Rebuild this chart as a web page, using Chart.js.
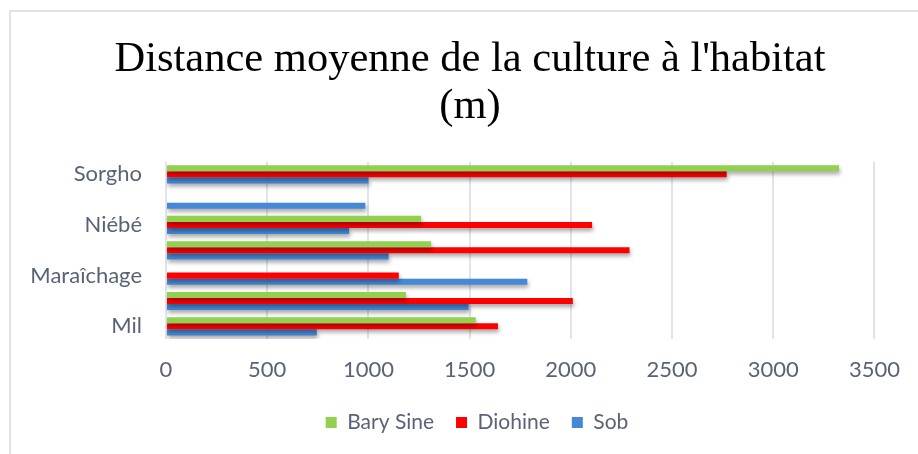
<!DOCTYPE html>
<html>
<head>
<meta charset="utf-8">
<script src="https://cdn.jsdelivr.net/npm/chart.js@4.4.1/dist/chart.umd.min.js"></script>
<style>
  body { margin: 0; background: #fff; }
  #wrap { position: relative; width: 918px; height: 454px; overflow: hidden; }
  #frame { position: absolute; left: 9px; top: 10px; width: 1000px; height: 500px;
           border-left: 2px solid #dfe4ea; border-top: 2px solid #dfe4ea; }
  canvas { position: absolute; left: 0; top: 0; }
</style>
</head>
<body>
<div id="wrap">
  <div id="frame"></div>
  <canvas id="chart" width="918" height="454"></canvas>
</div>
<script>
// categories, bottom to top (only every other one is labelled in the source)
const categories = ['Mil', '', 'Maraîchage', '', 'Niébé', '', 'Sorgho'];
const barySine = [1530, 1185, null, 1310, 1260, null, 3325];
const diohine  = [1640, 2010, 1150, 2290, 2105, null, 2770];
const sob      = [745, 1495, 1785, 1100, 905, 985, 1000];
const xTicks   = [0, 500, 1000, 1500, 2000, 2500, 3000, 3500];

const tickColor = '#5a6375';

// soft drop shadow under the bars, like the office chart
const barShadow = {
  id: 'barShadow',
  beforeDatasetsDraw(chart) {
    const c = chart.ctx;
    c.save();
    c.shadowColor = 'rgba(0,0,0,0.35)';
    c.shadowBlur = 4;
    c.shadowOffsetX = 1;
    c.shadowOffsetY = 3;
  },
  afterDatasetsDraw(chart) {
    chart.ctx.restore();
  }
};

// legend sits a little right of the title centre in the source
const legendNudge = {
  id: 'legendNudge',
  afterLayout(chart) {
    chart.legend.left += 7;
    chart.legend.right += 7;
  }
};

const ctx = document.getElementById('chart').getContext('2d');

const chart = new Chart(ctx, {
  type: 'bar',
  data: {
    labels: categories,
    datasets: [
      { label: 'Bary Sine', data: barySine, backgroundColor: '#92d050' },
      { label: 'Diohine', data: diohine, backgroundColor: '#ff0000' },
      { label: 'Sob', data: sob, backgroundColor: '#4588d6' }
    ]
  },
  options: {
    indexAxis: 'y',
    responsive: false,
    animation: false,
    categoryPercentage: 0.72,
    barPercentage: 1,
    layout: {
      padding: { left: 22, right: 0, top: 0, bottom: 11 }
    },
    scales: {
      x: {
        min: 0,
        max: 3500,
        afterBuildTicks: (scale) => {
          scale.ticks = xTicks.map(v => ({ value: v }));
        },
        afterFit: (scale) => { scale.height = 51; },
        grid: { color: '#e1e4ea', lineWidth: 2, drawTicks: false },
        border: { display: false },
        ticks: {
          padding: 18,
          color: tickColor,
          font: { family: 'Lato', size: 22 },
          callback: (v) => String(v)
        }
      },
      y: {
        reverse: true,
        grid: { display: false, drawTicks: false },
        border: { display: false },
        afterFit: (scale) => { scale.width = 144; },
        ticks: {
          autoSkip: false,
          padding: 24,
          color: tickColor,
          font: { family: 'Lato', size: 22 }
        }
      },
      // empty strip on the right so the plot stops short of the edge
      yRight: {
        type: 'linear',
        axis: 'y',
        position: 'right',
        grid: { display: false, drawTicks: false },
        border: { display: false },
        ticks: { display: false },
        afterFit: (scale) => { scale.width = 40; }
      }
    },
    plugins: {
      title: {
        display: true,
        text: ["Distance moyenne de la culture à l'habitat", '(m)'],
        color: '#000',
        font: { family: 'Liberation Serif', size: 42.5, weight: 'normal', lineHeight: 1.09 },
        padding: { top: 37, bottom: 32 }
      },
      legend: {
        position: 'bottom',
        labels: {
          boxWidth: 11,
          boxHeight: 11,
          padding: 22,
          color: tickColor,
          font: { family: 'Lato', size: 21 }
        }
      },
      tooltip: { enabled: false }
    }
  },
  plugins: [barShadow, legendNudge]
});
</script>
</body>
</html>
